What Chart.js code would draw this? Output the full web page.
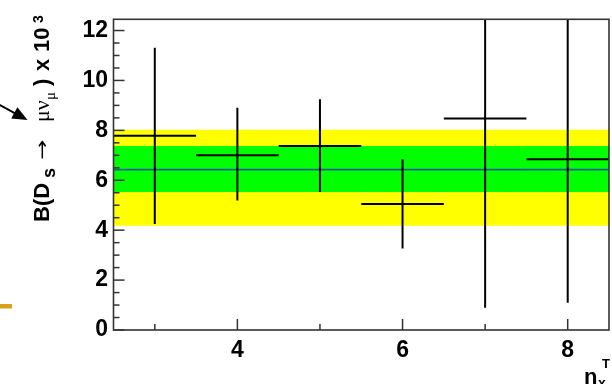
<!DOCTYPE html>
<html><head><meta charset="utf-8">
<script src="https://cdn.jsdelivr.net/npm/chart.js@4.4.0/dist/chart.umd.min.js"></script>
<style>html,body{margin:0;padding:0;background:#fff;} #wrap{width:612px;height:384px;position:relative;}</style>
</head><body><div id="wrap"><canvas id="c" width="612" height="384"></canvas></div>
<script>
// ---- data ----
const nTx          = [3, 4, 5, 6, 7, 8];
const binHalfWidth = [0.5, 0.5, 0.5, 0.5, 0.5, 0.5];
const branching    = [7.78, 7.00, 7.37, 5.05, 8.47, 6.84];
const errLow       = [4.25, 5.19, 5.53, 3.27, 0.89, 1.09];
const errHigh      = [11.31, 8.91, 9.25, 6.84, 16.05, 12.60];
const average      = 6.43;
const band1sigma   = [5.53, 7.37];
const band2sigma   = [4.18, 8.02];
const xTickLabels  = [4, 6, 8];
const yTickLabels  = [0, 2, 4, 6, 8, 10, 12];
const xRange       = [2.5, 8.5];
const yRange       = [0, 12.45];

const datasets = [];
nTx.forEach((x, i) => {
  datasets.push({ data: [{x: x, y: errLow[i]}, {x: x, y: errHigh[i]}],
    showLine: true, borderColor: '#000', borderWidth: 2, pointRadius: 0, fill: false });
  datasets.push({ data: [{x: x - binHalfWidth[i], y: branching[i]}, {x: x + binHalfWidth[i], y: branching[i]}],
    showLine: true, borderColor: '#000', borderWidth: 2, pointRadius: 0, fill: false });
});
datasets.push({ data: [{x: xRange[0], y: average}, {x: xRange[1], y: average}],
  showLine: true, borderColor: '#1a5a9a', borderWidth: 1.7, pointRadius: 0, fill: false });
datasets.push({ data: [{x: xRange[0], y: band1sigma[1]}, {x: xRange[1], y: band1sigma[1]}],
  showLine: true, borderWidth: 0, borderColor: 'rgba(0,0,0,0)', pointRadius: 0, fill: '+1', backgroundColor: '#00ff00' });
datasets.push({ data: [{x: xRange[0], y: band1sigma[0]}, {x: xRange[1], y: band1sigma[0]}],
  showLine: true, borderWidth: 0, borderColor: 'rgba(0,0,0,0)', pointRadius: 0, fill: false });
datasets.push({ data: [{x: xRange[0], y: band2sigma[1]}, {x: xRange[1], y: band2sigma[1]}],
  showLine: true, borderWidth: 0, borderColor: 'rgba(0,0,0,0)', pointRadius: 0, fill: '+1', backgroundColor: '#ffff00' });
datasets.push({ data: [{x: xRange[0], y: band2sigma[0]}, {x: xRange[1], y: band2sigma[0]}],
  showLine: true, borderWidth: 0, borderColor: 'rgba(0,0,0,0)', pointRadius: 0, fill: false });

const FONT = '"Liberation Sans", Arial, Helvetica, sans-serif';

const deco = {
  id: 'deco',
  afterDraw(chart) {
    const ctx = chart.ctx, a = chart.chartArea;
    const xs = chart.scales.x, ys = chart.scales.y;
    ctx.save();
    // frame
    ctx.strokeStyle = '#333'; ctx.lineWidth = 1.6;
    ctx.strokeRect(a.left, a.top, a.right - a.left, a.bottom - a.top);
    // y ticks (inward)
    ctx.lineWidth = 1.5;
    for (let v = 0; v <= yRange[1] + 1e-9; v += 0.5) {
      const y = ys.getPixelForValue(v);
      const len = (Math.abs(v % 2) < 1e-9) ? 11 : 6;
      ctx.beginPath(); ctx.moveTo(a.left, y); ctx.lineTo(a.left + len, y); ctx.stroke();
    }
    // x ticks (inward)
    for (let v = 3; v <= xRange[1] + 1e-9; v += 1) {
      const x = xs.getPixelForValue(v);
      const len = (v % 2 === 0) ? 11 : 6;
      ctx.beginPath(); ctx.moveTo(x, a.bottom); ctx.lineTo(x, a.bottom - len); ctx.stroke();
    }
    // y axis title (rotated, rich text)
    ctx.fillStyle = '#000';
    ctx.translate(49, 222);
    ctx.rotate(-Math.PI / 2);
    ctx.textBaseline = 'alphabetic'; ctx.textAlign = 'left';
    const piece = (txt, u, font, dv) => { ctx.font = font; ctx.fillText(txt, u, dv); };
    piece('B(D', 0, 'bold 22px ' + FONT, 0);
    piece('s', 44, 'bold 18px ' + FONT, 6);
    ctx.save(); ctx.translate(62, 0); ctx.scale(1.35, 1);
    piece('\u2192', 0, '18px "DejaVu Sans"', -1);
    ctx.restore();
    piece('\u03bc\u03bd', 100, '22px "Liberation Serif"', 0);
    piece('\u03bc', 122, '15px "Liberation Serif"', 6);
    piece(')', 136, 'bold 22px ' + FONT, 0);
    piece('x', 151, 'bold 22px ' + FONT, 0);
    piece('10', 170, 'bold 22px ' + FONT, 0);
    piece('3', 199, 'bold 14px ' + FONT, -6);
    ctx.setTransform(1, 0, 0, 1, 0, 0);
    // x axis title
    ctx.font = 'bold 22px ' + FONT; ctx.fillText('n', 584, 384);
    ctx.font = 'bold 13px ' + FONT; ctx.fillText('T', 602, 368);
    ctx.font = 'bold 14px ' + FONT; ctx.fillText('x', 598, 388);
    // fragments of the neighbouring figure at the left edge
    const tip = [27.5, 120], st = [-2, 104];
    const dx = tip[0] - st[0], dy = tip[1] - st[1], L = Math.hypot(dx, dy);
    const ux = dx / L, uy = dy / L, hl = 15, hw = 6.5;
    const bx = tip[0] - ux * hl, by = tip[1] - uy * hl;
    ctx.strokeStyle = '#000'; ctx.lineWidth = 2;
    ctx.beginPath(); ctx.moveTo(st[0], st[1]); ctx.lineTo(bx + ux * 2, by + uy * 2); ctx.stroke();
    ctx.fillStyle = '#000';
    ctx.beginPath(); ctx.moveTo(tip[0], tip[1]);
    ctx.lineTo(bx - uy * hw, by + ux * hw); ctx.lineTo(bx + uy * hw, by - ux * hw);
    ctx.closePath(); ctx.fill();
    ctx.fillStyle = '#d6a21a';
    ctx.fillRect(0, 304, 12, 4.5);
    ctx.restore();
  }
};

new Chart(document.getElementById('c'), {
  type: 'scatter',
  data: { datasets: datasets },
  options: {
    responsive: false, animation: false, devicePixelRatio: 1,
    layout: { padding: { top: 9.5, right: 3, left: 0, bottom: 0 } },
    plugins: { legend: { display: false }, tooltip: { enabled: false } },
    scales: {
      x: {
        type: 'linear', min: xRange[0], max: xRange[1],
        grid: { display: false, drawTicks: false }, border: { display: false },
        ticks: { font: { family: FONT, weight: 'bold', size: 23 }, color: '#000', padding: 7, maxRotation: 0 },
        afterBuildTicks: s => { s.ticks = xTickLabels.map(v => ({ value: v })); },
        afterFit: s => { s.height = 54; }
      },
      y: {
        type: 'linear', min: yRange[0], max: yRange[1],
        grid: { display: false, drawTicks: false }, border: { display: false },
        ticks: { font: { family: FONT, weight: 'bold', size: 23 }, color: '#000', padding: 5.5 },
        afterBuildTicks: s => { s.ticks = yTickLabels.map(v => ({ value: v })); },
        afterFit: s => { s.width = 113.5; }
      }
    }
  },
  plugins: [deco]
});
</script></body></html>
